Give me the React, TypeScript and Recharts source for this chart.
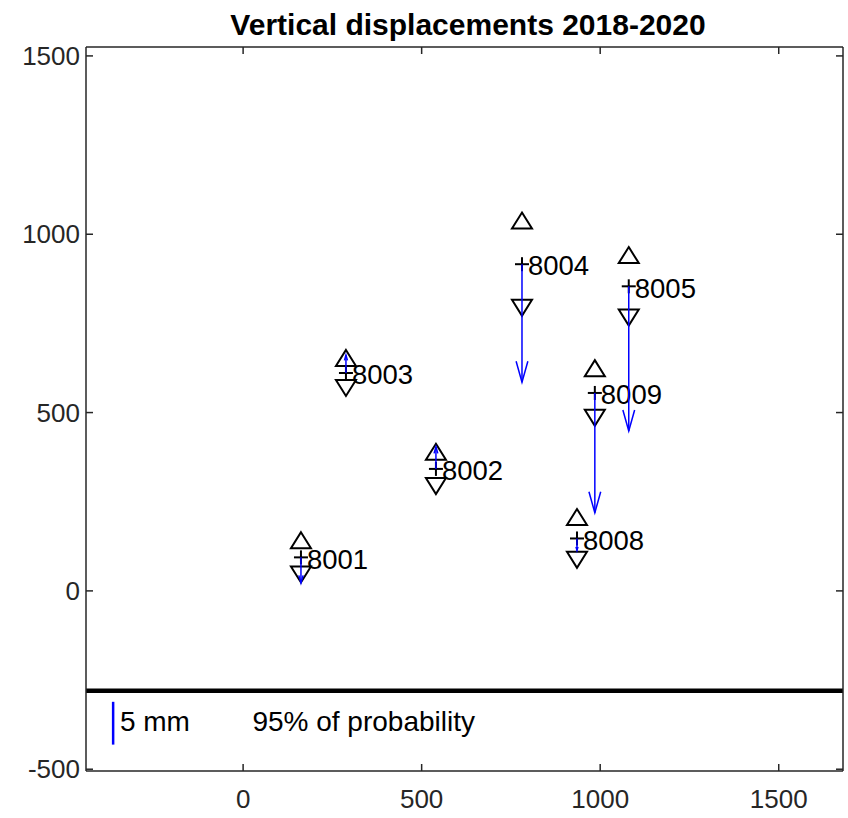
import React from 'react';
import { ScatterChart, Scatter, XAxis, YAxis, ReferenceLine } from 'recharts';

// ---- data ----
const stations = ['8001', '8002', '8003', '8004', '8005', '8008', '8009'];
const eastings = [162, 540, 288, 781, 1080, 935, 985];
const northings = [94, 342, 611, 916, 854, 147, 555];
const displacementMm = [-3.0, 2.6, 2.1, -13.8, -16.9, -1.4, -14.0];
const confidenceMm = [2.0, 2.0, 1.75, 5.1, 3.65, 2.5, 2.9];

const xTicks = [0, 500, 1000, 1500];
const yTicks = [-500, 0, 500, 1000, 1500];
const xDomain = [-440, 1680];
const yDomain = [-505, 1525];

const unitsPerMm = 24;
const dividerY = -280;
const scaleBarMm = 5;
const scaleBarX = -364;
const scaleBarTop = -311;
const legendTexts = [
  { x: -345, y: -373, text: '5 mm' },
  { x: 26, y: -373, text: '95% of probability' },
];

// ---- layout ----
const W = 848;
const H = 818;
const MARGIN = { top: 46, right: 4, bottom: 0, left: 0 };
const LEFT_W = 86;
const BOTTOM_H = 47;
const PLOT_H = H - MARGIN.top - 1 - BOTTOM_H;
const pxPerUnit = PLOT_H / (yDomain[1] - yDomain[0]);

const FONT = '"Liberation Sans", Arial, Helvetica, sans-serif';
const AXIS = '#262626';

const points = stations.map((s, i) => ({
  x: eastings[i],
  y: northings[i],
  label: s,
  dy: displacementMm[i] * unitsPerMm,
}));
const upper = stations.map((s, i) => ({ x: eastings[i], y: northings[i] + confidenceMm[i] * unitsPerMm }));
const lower = stations.map((s, i) => ({ x: eastings[i], y: northings[i] - confidenceMm[i] * unitsPerMm }));

const PlusShape = (props: any) => {
  const { cx, cy, payload } = props;
  const s = 7;
  return (
    <g>
      <line x1={cx - s} x2={cx + s} y1={cy} y2={cy} stroke="#000" strokeWidth={2} />
      <line x1={cx} x2={cx} y1={cy - s} y2={cy + s} stroke="#000" strokeWidth={2} />
      <text x={cx + 6} y={cy + 4} dominantBaseline="middle" fontSize={27.5} fontFamily={FONT} fill="#000">
        {payload.label}
      </text>
    </g>
  );
};

const TriUp = (props: any) => {
  const { cx, cy } = props;
  const hw = 10, hh = 8;
  return (
    <polygon
      points={`${cx},${cy - hh} ${cx + hw},${cy + hh} ${cx - hw},${cy + hh}`}
      fill="none"
      stroke="#000"
      strokeWidth={2}
    />
  );
};

const TriDown = (props: any) => {
  const { cx, cy } = props;
  const hw = 10, hh = 8;
  return (
    <polygon
      points={`${cx - hw},${cy - hh} ${cx + hw},${cy - hh} ${cx},${cy + hh}`}
      fill="none"
      stroke="#000"
      strokeWidth={2}
    />
  );
};

const ArrowShape = (props: any) => {
  const { cx, cy, payload } = props;
  const len = -payload.dy * pxPerUnit; // positive = downward on screen
  const tipY = cy + len;
  const L = Math.abs(len);
  const head = Math.min(0.3 * L, 21);
  const hw = head * 0.28;
  const dir = len >= 0 ? 1 : -1;
  return (
    <g stroke="#0000ff" strokeWidth={1.5} fill="none">
      <line x1={cx} x2={cx} y1={cy} y2={tipY} />
      <polyline points={`${cx - hw},${tipY - dir * head} ${cx},${tipY} ${cx + hw},${tipY - dir * head}`} />
    </g>
  );
};

const LegendText = (props: any) => {
  const { cx, cy, payload } = props;
  return (
    <text x={cx} y={cy} dominantBaseline="middle" fontSize={28} fontFamily={FONT} fill="#000">
      {payload.text}
    </text>
  );
};

const tickStyle = { fontSize: 26, fontFamily: FONT, fill: AXIS };

export default function App() {
  return (
    <div style={{ position: 'absolute', left: 0, top: 0, width: W, height: H, background: '#fff' }}>
      <div
        style={{
          position: 'absolute',
          left: 88,
          width: 760,
          top: 9,
          textAlign: 'center',
          fontFamily: FONT,
          fontWeight: 'bold',
          fontSize: 30,
          lineHeight: '32px',
          color: '#000',
        }}
      >
        Vertical displacements 2018-2020
      </div>
      <ScatterChart width={W} height={H} margin={MARGIN}>
        <XAxis
          type="number"
          dataKey="x"
          domain={xDomain}
          ticks={xTicks}
          allowDataOverflow
          height={BOTTOM_H}
          tickSize={-7}
          tickMargin={26}
          tick={tickStyle}
          stroke={AXIS}
          axisLine={{ stroke: AXIS, strokeWidth: 1.5 }}
          tickLine={{ stroke: AXIS, strokeWidth: 1.5 }}
        />
        <XAxis
          xAxisId="top"
          orientation="top"
          type="number"
          dataKey="x"
          domain={xDomain}
          ticks={xTicks}
          allowDataOverflow
          height={1}
          tickSize={-7}
          tickFormatter={() => ''}
          axisLine={{ stroke: AXIS, strokeWidth: 1.5 }}
          tickLine={{ stroke: AXIS, strokeWidth: 1.5 }}
        />
        <YAxis
          type="number"
          dataKey="y"
          domain={yDomain}
          ticks={yTicks}
          allowDataOverflow
          width={LEFT_W}
          tickSize={-7}
          tickMargin={13}
          tick={tickStyle}
          axisLine={{ stroke: AXIS, strokeWidth: 1.5 }}
          tickLine={{ stroke: AXIS, strokeWidth: 1.5 }}
        />
        <YAxis
          yAxisId="right"
          orientation="right"
          type="number"
          dataKey="y"
          domain={yDomain}
          ticks={yTicks}
          allowDataOverflow
          width={1}
          tickSize={-7}
          tickFormatter={() => ''}
          axisLine={{ stroke: AXIS, strokeWidth: 1.5 }}
          tickLine={{ stroke: AXIS, strokeWidth: 1.5 }}
        />
        <ReferenceLine y={dividerY} stroke="#000" strokeWidth={4.5} />
        <ReferenceLine
          segment={[
            { x: scaleBarX, y: scaleBarTop },
            { x: scaleBarX, y: scaleBarTop - scaleBarMm * unitsPerMm },
          ]}
          stroke="#0000ff"
          strokeWidth={2.5}
        />
        <Scatter data={legendTexts} shape={LegendText} isAnimationActive={false} />
        <Scatter data={upper} shape={TriUp} isAnimationActive={false} />
        <Scatter data={lower} shape={TriDown} isAnimationActive={false} />
        <Scatter data={points} shape={PlusShape} isAnimationActive={false} />
        <Scatter data={points} shape={ArrowShape} isAnimationActive={false} />
      </ScatterChart>
    </div>
  );
}
